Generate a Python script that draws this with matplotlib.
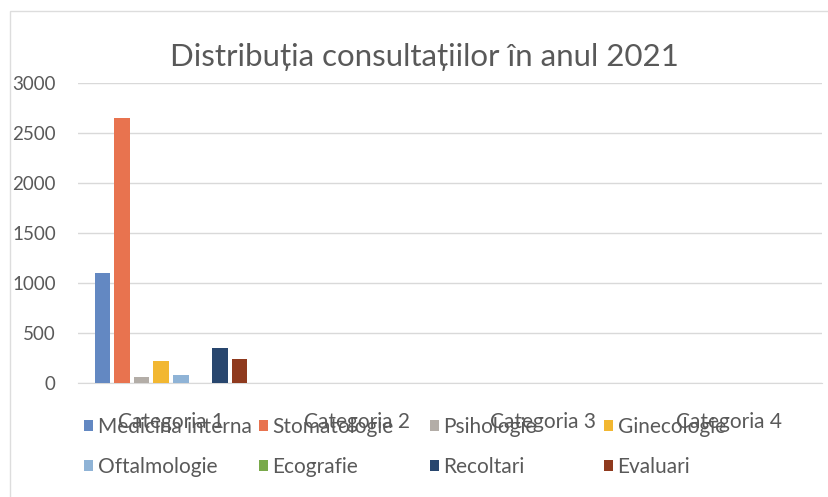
import matplotlib
matplotlib.use("Agg")
import matplotlib.pyplot as plt
import numpy as np
from matplotlib.patches import Patch, Rectangle

plt.rcParams["font.family"] = ["Lato", "DejaVu Sans"]

CATEGORIES = ["Categoria 1", "Categoria 2", "Categoria 3", "Categoria 4"]
SERIES = ["Medicina interna", "Stomatologie", "Psihologie", "Ginecologie",
          "Oftalmologie", "Ecografie", "Recoltari", "Evaluari"]
COLORS = ["#6388C2", "#E8734F", "#B3ADA7", "#F2B731",
          "#8FB3D6", "#79A94A", "#28466E", "#8F3A1E"]
# only Categoria 1 has values, the rest are zero
VALUES = [
    [1100, 0, 0, 0],
    [2650, 0, 0, 0],
    [65, 0, 0, 0],
    [225, 0, 0, 0],
    [85, 0, 0, 0],
    [0, 0, 0, 0],
    [350, 0, 0, 0],
    [245, 0, 0, 0],
]
Y_TICKS = [0, 500, 1000, 1500, 2000, 2500, 3000]

TEXT = "#595959"
GRID = "#D9D9D9"
W, H = 829, 497

fig = plt.figure(figsize=(W / 100, H / 100), dpi=100)
fig.patch.set_facecolor("white")
fig.patches.append(Rectangle((10 / W, -0.1), 1.2, 1 - 11 / H + 0.1, transform=fig.transFigure,
                             fill=False, edgecolor="#DDDDDD", lw=1.0))

ax = fig.add_axes([78 / W, 1 - 383 / H, (822 - 78) / W, 300 / H])

x = np.arange(len(CATEGORIES))
slot = 0.1054
width = 0.083
for i, (name, vals) in enumerate(zip(SERIES, VALUES)):
    ax.bar(x + (i - 3.5) * slot, vals, width=width, color=COLORS[i], label=name, zorder=3)

ax.set_xlim(-0.5, 3.5)
ax.set_ylim(0, 3000)
ax.set_yticks(Y_TICKS)
ax.set_xticks(x)
ax.set_xticklabels(CATEGORIES)
ax.tick_params(axis="y", length=0, pad=16, labelsize=13.5, labelcolor=TEXT)
ax.tick_params(axis="x", length=0, pad=21, labelsize=15, labelcolor=TEXT)
ax.yaxis.grid(True, color=GRID, lw=1.0, zorder=0)
ax.xaxis.grid(False)
for s in ["top", "right", "left"]:
    ax.spines[s].set_visible(False)
ax.spines["bottom"].set_color(GRID)
ax.set_facecolor("none")

fig.text(424 / W, 1 - 57 / H, "Distribuția consultațiilor în anul 2021", ha="center", va="center",
         fontsize=22.5, color=TEXT)

# legend: 4 evenly spaced columns of two rows each
col_x = [84, 259, 430, 604]
for c in range(4):
    idx = [c, c + 4]
    handles = [Patch(facecolor=COLORS[k], edgecolor="none") for k in idx]
    leg = fig.legend(handles, [SERIES[k] for k in idx], loc="upper left",
                     bbox_to_anchor=(col_x[c] / W, 1 - 417 / H), frameon=False,
                     fontsize=15, handlelength=0.45, handleheight=0.45, handletextpad=0.2,
                     labelspacing=0.95, borderpad=0, borderaxespad=0, labelcolor=TEXT)

fig.savefig("out.png", dpi=100)
